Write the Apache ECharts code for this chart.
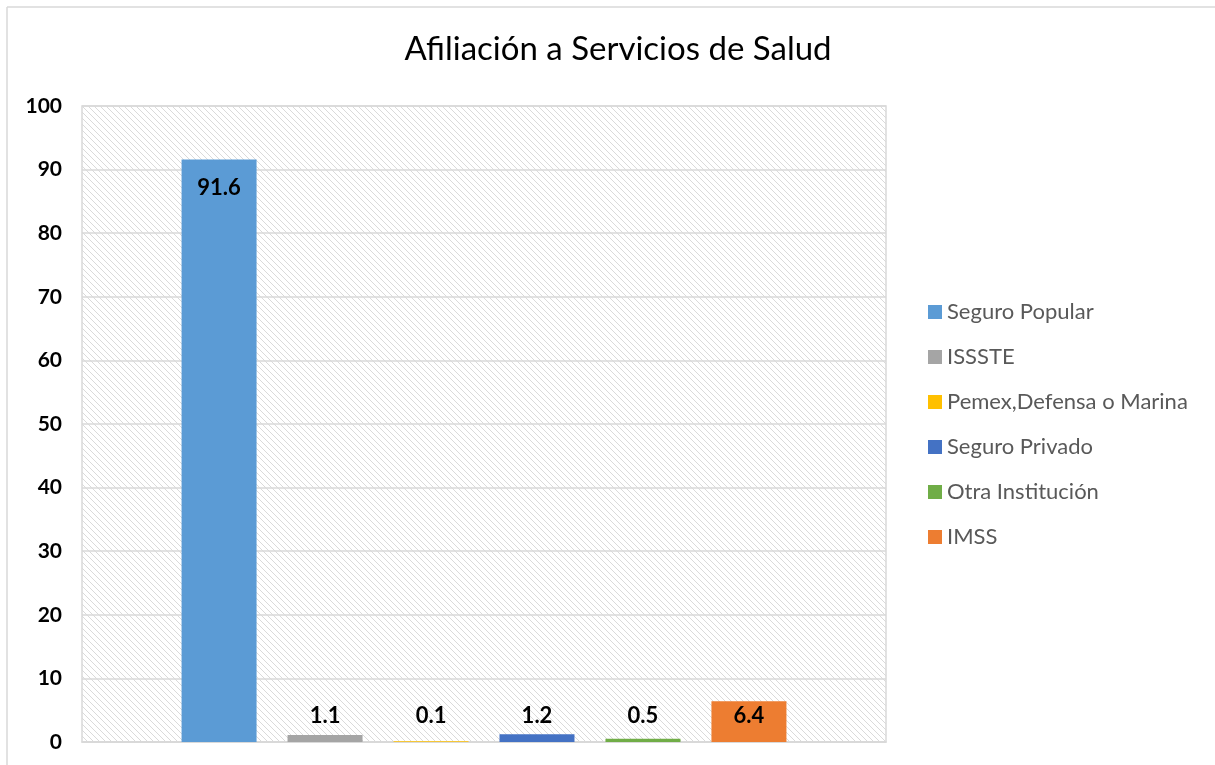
<!DOCTYPE html>
<html>
<head>
<meta charset="utf-8">
<script src="https://cdn.jsdelivr.net/npm/echarts@6/dist/echarts.min.js"></script>
<style>
  html, body { margin: 0; padding: 0; background: #fff; }
  #chart { width: 1215px; height: 765px; }
</style>
</head>
<body>
<div id="chart"></div>
<script>
// datos
const seriesNames = ['Seguro Popular', 'ISSSTE', 'Pemex,Defensa o Marina', 'Seguro Privado', 'Otra Institución', 'IMSS']
const seriesValues = [91.6, 1.1, 0.1, 1.2, 0.5, 6.4]
const seriesColors = ['#5B9BD5', '#A5A5A5', '#FFC000', '#4472C4', '#70AD47', '#ED7D31']
const categories = ['']

// patrón rayado del área de trazado
const hatch = document.createElement('canvas')
hatch.width = 6
hatch.height = 6
const ctx = hatch.getContext('2d')
ctx.fillStyle = '#ffffff'
ctx.fillRect(0, 0, 6, 6)
ctx.strokeStyle = '#dadada'
ctx.lineWidth = 1
ctx.beginPath()
ctx.moveTo(-1, -1); ctx.lineTo(7, 7)
ctx.moveTo(-7, -1); ctx.lineTo(1, 7)
ctx.moveTo(5, -1); ctx.lineTo(13, 7)
ctx.stroke()

const chart = echarts.init(document.getElementById('chart'))

const series = seriesNames.map((name, i) => ({
  name,
  type: 'bar',
  data: [seriesValues[i]],
  barWidth: 75,
  barGap: '41.3%',
  itemStyle: { color: seriesColors[i] },
  label: {
    show: true,
    position: i === 0 ? 'insideTop' : 'insideBottom',
    distance: i === 0 ? 17 : 15,
    color: '#000',
    fontFamily: 'Lato',
    fontWeight: 'bold',
    fontSize: 22,
    formatter: p => p.value.toFixed(1)
  }
}))

chart.setOption({
  animation: false,
  backgroundColor: '#fff',
  title: {
    text: 'Afiliación a Servicios de Salud',
    left: 613,
    top: 28,
    textAlign: 'center',
    textStyle: {
      fontFamily: 'Lato',
      fontWeight: 'normal',
      fontSize: 33,
      color: '#000'
    }
  },
  legend: {
    orient: 'vertical',
    left: 923,
    top: 296,
    itemWidth: 14,
    itemHeight: 14,
    itemGap: 23,
    icon: 'rect',
    textStyle: {
      fontFamily: 'Lato',
      fontSize: 22,
      color: '#595959'
    },
    data: seriesNames
  },
  grid: {
    left: 82,
    right: 1215 - 886,
    top: 106,
    bottom: 765 - 742,
    show: true,
    backgroundColor: { image: hatch, repeat: 'repeat' },
    borderColor: '#d9d9d9',
    borderWidth: 1.5
  },
  xAxis: {
    type: 'category',
    data: categories,
    axisLine: { lineStyle: { color: '#d9d9d9', width: 1.5 } },
    axisTick: { show: false },
    axisLabel: { show: false }
  },
  yAxis: {
    type: 'value',
    min: 0,
    max: 100,
    interval: 10,
    axisLine: { show: false },
    axisTick: { show: false },
    axisLabel: {
      margin: 20,
      fontFamily: 'Lato',
      fontWeight: 'bold',
      fontSize: 21,
      color: '#000'
    },
    splitLine: { lineStyle: { color: '#d9d9d9', width: 1.5 } }
  },
  graphic: [
    { type: 'line', shape: { x1: 7, y1: 7, x2: 1215, y2: 7 }, style: { stroke: '#d9d9d9', lineWidth: 1.5 } },
    { type: 'line', shape: { x1: 7, y1: 7, x2: 7, y2: 765 }, style: { stroke: '#d9d9d9', lineWidth: 1.5 } }
  ],
  series
})
</script>
</body>
</html>
